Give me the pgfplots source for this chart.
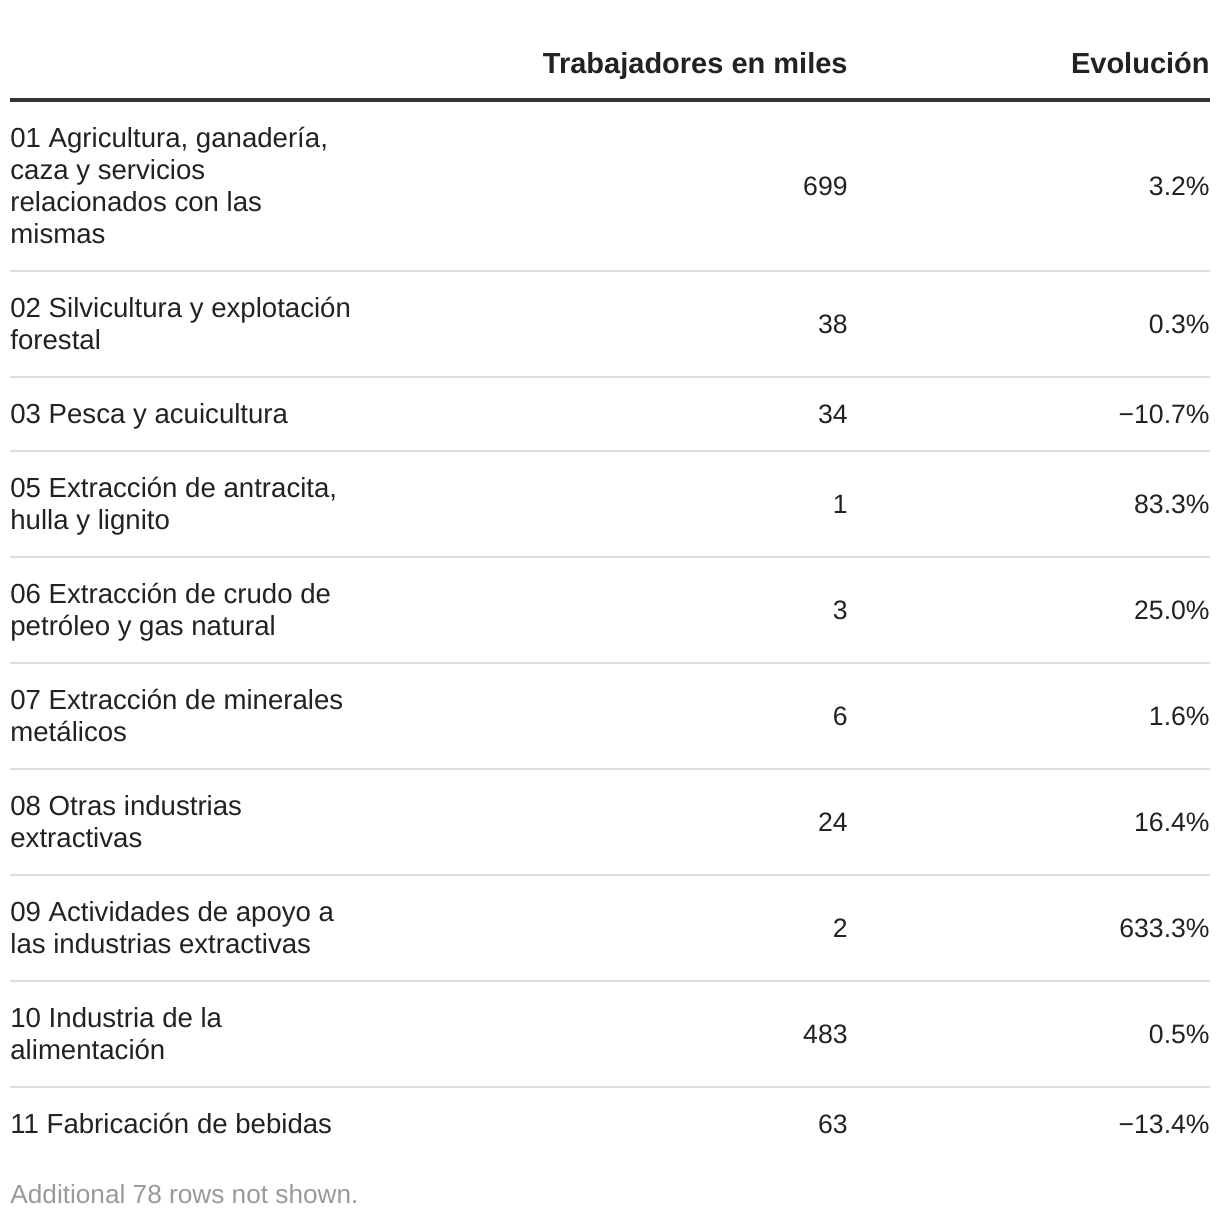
\documentclass[border=0pt]{standalone}
\usepackage{pgfplots}
\pgfplotsset{compat=1.18}
\usepackage{pgfplotstable}
\usepackage{fontspec}
\setmainfont{Liberation Sans}
\definecolor{txt}{HTML}{222222}
\definecolor{rule}{HTML}{333333}
\definecolor{sep}{HTML}{DDDDDD}
\definecolor{foot}{HTML}{999999}
\tikzset{
  lab/.style={anchor=base west, inner sep=0, font=\fontsize{13.8}{16}\selectfont, text=txt, yshift=-4.85pt},
  hdr/.style={anchor=base east, inner sep=0, font=\fontsize{14.5}{16}\selectfont\bfseries, text=txt, yshift=-5.1pt},
}

\pgfplotstableread[col sep=semicolon]{
x;y;lab
848;186;699
848;324;38
848;414;34
848;504;1
848;610;3
848;716;6
848;822;24
848;928;2
848;1034;483
848;1124;63
}\workers
\pgfplotstableread[col sep=semicolon]{
x;y;lab
1210;186;3.2\%
1210;324;0.3\%
1210;414;−10.7\%
1210;504;83.3\%
1210;610;25.0\%
1210;716;1.6\%
1210;822;16.4\%
1210;928;633.3\%
1210;1034;0.5\%
1210;1124;−13.4\%
}\evol

\begin{document}
\begin{tikzpicture}
\begin{axis}[
  scale only axis, width=610pt, height=610pt,
  xmin=0, xmax=1220, ymin=0, ymax=1220, y dir=reverse,
  hide axis, clip=false,
]
\path (axis cs:0,0) rectangle (axis cs:1220,1220);
% header
\node[hdr] at (axis cs:848,63) {Trabajadores en miles};
\node[hdr] at (axis cs:1210,63) {Evolución};
\draw[rule, line width=2pt] (axis cs:10,100) -- (axis cs:1210,100);
% separators
\draw[sep, line width=0.6pt] (axis cs:10,271) -- (axis cs:1210,271);
\draw[sep, line width=0.6pt] (axis cs:10,377) -- (axis cs:1210,377);
\draw[sep, line width=0.6pt] (axis cs:10,451) -- (axis cs:1210,451);
\draw[sep, line width=0.6pt] (axis cs:10,557) -- (axis cs:1210,557);
\draw[sep, line width=0.6pt] (axis cs:10,663) -- (axis cs:1210,663);
\draw[sep, line width=0.6pt] (axis cs:10,769) -- (axis cs:1210,769);
\draw[sep, line width=0.6pt] (axis cs:10,875) -- (axis cs:1210,875);
\draw[sep, line width=0.6pt] (axis cs:10,981) -- (axis cs:1210,981);
\draw[sep, line width=0.6pt] (axis cs:10,1087) -- (axis cs:1210,1087);
% labels
\node[lab] at (axis cs:10,138) {01 Agricultura, ganadería,};
\node[lab] at (axis cs:10,170) {caza y servicios};
\node[lab] at (axis cs:10,202) {relacionados con las};
\node[lab] at (axis cs:10,234) {mismas};
\node[lab] at (axis cs:10,308) {02 Silvicultura y explotación};
\node[lab] at (axis cs:10,340) {forestal};
\node[lab] at (axis cs:10,414) {03 Pesca y acuicultura};
\node[lab] at (axis cs:10,488) {05 Extracción de antracita,};
\node[lab] at (axis cs:10,520) {hulla y lignito};
\node[lab] at (axis cs:10,594) {06 Extracción de crudo de};
\node[lab] at (axis cs:10,626) {petróleo y gas natural};
\node[lab] at (axis cs:10,700) {07 Extracción de minerales};
\node[lab] at (axis cs:10,732) {metálicos};
\node[lab] at (axis cs:10,806) {08 Otras industrias};
\node[lab] at (axis cs:10,838) {extractivas};
\node[lab] at (axis cs:10,912) {09 Actividades de apoyo a};
\node[lab] at (axis cs:10,944) {las industrias extractivas};
\node[lab] at (axis cs:10,1018) {10 Industria de la};
\node[lab] at (axis cs:10,1050) {alimentación};
\node[lab] at (axis cs:10,1124) {11 Fabricación de bebidas};
\node[lab, text=foot, font=\fontsize{13.1}{16}\selectfont] at (axis cs:10,1194) {Additional 78 rows not shown.};
% values
\addplot[only marks, mark=none, nodes near coords, point meta=explicit symbolic,
  nodes near coords style={anchor=base east, inner sep=0, font=\fontsize{13.3}{16}\selectfont, text=txt, yshift=-4.75pt}]
  table[x=x, y=y, meta=lab] {\workers};
\addplot[only marks, mark=none, nodes near coords, point meta=explicit symbolic,
  nodes near coords style={anchor=base east, inner sep=0, font=\fontsize{13.3}{16}\selectfont, text=txt, yshift=-4.75pt}]
  table[x=x, y=y, meta=lab] {\evol};
\end{axis}
\end{tikzpicture}
\end{document}
